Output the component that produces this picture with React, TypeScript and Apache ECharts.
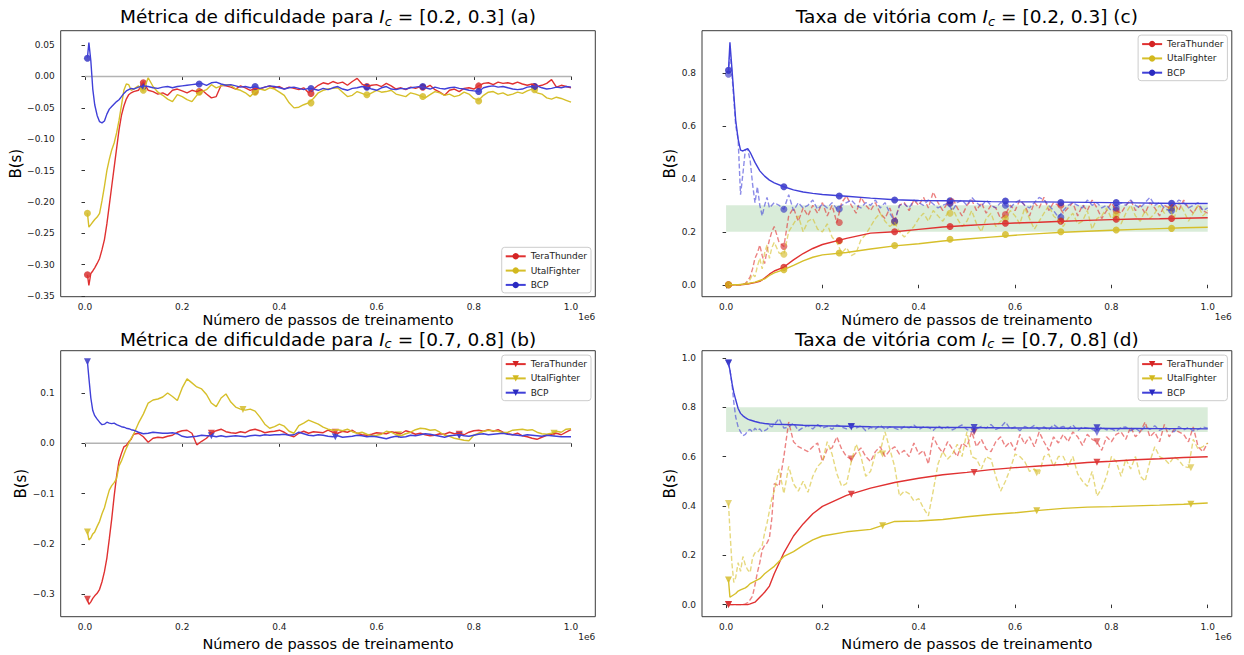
import React, { useEffect, useRef } from 'react';
import * as echarts from 'echarts';

// ---------- ticks ----------
const X_TICKS = [0, 0.2, 0.4, 0.6, 0.8, 1.0];
const Y_TICKS_A = [-0.35, -0.3, -0.25, -0.2, -0.15, -0.1, -0.05, 0, 0.05];
const Y_TICKS_B = [-0.3, -0.2, -0.1, 0, 0.1];
const Y_TICKS_C = [0, 0.2, 0.4, 0.6, 0.8];
const Y_TICKS_D = [0, 0.2, 0.4, 0.6, 0.8, 1.0];

const AGENTS = ['TeraThunder', 'UtalFighter', 'BCP'];

// ---------- x positions (units of 1e6 training steps) ----------
const X_N = [
  0.005, 0.008, 0.012, 0.016, 0.02, 0.025, 0.03, 0.035, 0.04, 0.045,
  0.05, 0.055, 0.06, 0.065, 0.07, 0.075, 0.08, 0.085, 0.09, 0.095,
  0.10, 0.11, 0.12, 0.13, 0.14, 0.15, 0.16, 0.17, 0.18, 0.19,
  0.20, 0.21, 0.22, 0.23, 0.24, 0.25, 0.26, 0.27, 0.28, 0.29,
  0.30, 0.31, 0.32, 0.33, 0.34, 0.35, 0.36, 0.37, 0.38, 0.39,
  0.40, 0.41, 0.42, 0.43, 0.44, 0.45, 0.46, 0.47, 0.48, 0.49,
  0.50, 0.51, 0.52, 0.53, 0.54, 0.55, 0.56, 0.57, 0.58, 0.59,
  0.60, 0.61, 0.62, 0.63, 0.64, 0.65, 0.66, 0.67, 0.68, 0.69,
  0.70, 0.71, 0.72, 0.73, 0.74, 0.75, 0.76, 0.77, 0.78, 0.79,
  0.80, 0.81, 0.82, 0.83, 0.84, 0.85, 0.86, 0.87, 0.88, 0.89,
  0.90, 0.91, 0.92, 0.93, 0.94, 0.95, 0.96, 0.97, 0.98, 0.99, 1.00,
];
const X_S = [
  0.005, 0.008, 0.012, 0.016, 0.02, 0.025, 0.03, 0.035, 0.04, 0.045,
  0.05, 0.06, 0.07, 0.08, 0.09, 0.1, 0.12, 0.14, 0.16, 0.18, 0.2,
  0.25, 0.3, 0.35, 0.4, 0.45, 0.5, 0.55, 0.6, 0.65, 0.7, 0.75, 0.8, 0.85, 0.9, 0.95, 1.0,
];
const MK_AC = [0.005, 0.12, 0.235, 0.35, 0.465, 0.58, 0.695, 0.81, 0.925];
const MK_BD_RB = [0.005, 0.26, 0.515, 0.77];
const MK_BD_Y = [0.005, 0.325, 0.645, 0.965];

// ---------- (a) difficulty metric, Ic = [0.2, 0.3] ----------
const RED_A = [
  -0.316, -0.333, -0.314, -0.31, -0.305, -0.298, -0.29, -0.276, -0.26, -0.235,
  -0.205, -0.175, -0.145, -0.115, -0.085, -0.062, -0.047, -0.036, -0.029, -0.026,
  -0.024, -0.022, -0.008, -0.022, -0.024, -0.028, -0.026, -0.03, -0.022, -0.02,
  -0.023, -0.026, -0.022, -0.024, -0.021, -0.028, -0.034, -0.032, -0.014, -0.015,
  -0.017, -0.02, -0.015, -0.018, -0.022, -0.019, -0.02, -0.017, -0.015, -0.018,
  -0.016, -0.02, -0.017, -0.019, -0.021, -0.018, -0.026, -0.02, -0.014, -0.01,
  -0.012, -0.008, -0.011, -0.009, -0.014, -0.008, -0.003, -0.012, -0.016, -0.014,
  -0.013, -0.016, -0.011, -0.015, -0.02, -0.018, -0.021, -0.017, -0.019, -0.016,
  -0.018, -0.014, -0.021, -0.025, -0.03, -0.022, -0.02, -0.024, -0.019, -0.018,
  -0.02, -0.015, -0.011, -0.01, -0.013, -0.009, -0.011, -0.01, -0.012, -0.009,
  -0.012, -0.014, -0.012, -0.016, -0.014, -0.011, -0.005, -0.017, -0.014, -0.016, -0.018,
];
const YEL_A = [
  -0.218, -0.24, -0.236, -0.232, -0.228, -0.224, -0.218, -0.198, -0.175, -0.15,
  -0.132, -0.117, -0.106, -0.09, -0.07, -0.046, -0.022, -0.012, -0.013, -0.022,
  -0.02, -0.015, -0.023, -0.002, -0.016, -0.025, -0.03, -0.036, -0.04, -0.029,
  -0.032, -0.037, -0.04, -0.03, -0.024, -0.021, -0.013, -0.018, -0.015, -0.013,
  -0.014, -0.02, -0.022, -0.026, -0.032, -0.024, -0.02, -0.022, -0.018, -0.02,
  -0.025, -0.03, -0.042, -0.05, -0.049, -0.045, -0.042, -0.035, -0.026, -0.022,
  -0.02, -0.019, -0.018, -0.025, -0.032, -0.03, -0.024, -0.027, -0.03, -0.026,
  -0.022, -0.025, -0.024, -0.022, -0.028, -0.03, -0.032, -0.026, -0.028, -0.031,
  -0.034, -0.029, -0.024, -0.026, -0.03, -0.028, -0.032, -0.03, -0.025, -0.028,
  -0.035, -0.038, -0.03, -0.025, -0.024, -0.028, -0.026, -0.03, -0.028, -0.025,
  -0.027, -0.023, -0.02, -0.026, -0.028, -0.034, -0.036, -0.033, -0.035, -0.038, -0.041,
];
const BLU_A = [
  0.03, 0.054, 0.025, -0.02, -0.045, -0.062, -0.072, -0.074, -0.071, -0.06,
  -0.052, -0.048, -0.044, -0.04, -0.037, -0.032, -0.027, -0.023, -0.021, -0.019,
  -0.02, -0.017, -0.015, -0.016, -0.018, -0.019, -0.017, -0.016, -0.018, -0.016,
  -0.015, -0.014, -0.013, -0.012, -0.011, -0.014, -0.01, -0.009, -0.012, -0.014,
  -0.013, -0.015, -0.017, -0.016, -0.018, -0.016, -0.019, -0.017, -0.015, -0.016,
  -0.018, -0.02, -0.018, -0.017, -0.019, -0.021, -0.019, -0.02, -0.022, -0.019,
  -0.021, -0.018, -0.016, -0.02, -0.022, -0.019, -0.018, -0.016, -0.017, -0.02,
  -0.022, -0.018, -0.016, -0.02, -0.021, -0.019, -0.02, -0.018, -0.017, -0.016,
  -0.018, -0.02, -0.017, -0.019, -0.02, -0.018, -0.017, -0.019, -0.02, -0.022,
  -0.023, -0.024, -0.018, -0.016, -0.015, -0.017, -0.016, -0.018, -0.02, -0.021,
  -0.02, -0.017, -0.016, -0.015, -0.018, -0.02, -0.019, -0.017, -0.018, -0.016, -0.017,
];
const RED_A_MK = [-0.316, -0.01, -0.024, -0.024, -0.027, -0.016, -0.017, -0.015, -0.016];
const YEL_A_MK = [-0.218, -0.022, -0.025, -0.025, -0.042, -0.029, -0.032, -0.039, -0.021];
const BLU_A_MK = [0.029, -0.016, -0.012, -0.016, -0.019, -0.017, -0.016, -0.024, -0.016];

// ---------- (b) difficulty metric, Ic = [0.7, 0.8] ----------
const RED_B = [
  -0.31, -0.32, -0.315, -0.308, -0.303, -0.298, -0.29, -0.275, -0.255, -0.228,
  -0.19, -0.15, -0.105, -0.065, -0.035, -0.02, -0.007, -0.004, 0.003, 0.008,
  0.018, 0.02, 0.013, 0.002, 0.01, 0.012, 0.011, 0.014, 0.016, 0.022,
  0.025, 0.026, 0.02, -0.003, 0.004, 0.01, 0.02, 0.025, 0.028, 0.023,
  0.021, 0.02, 0.023, 0.021, 0.026, 0.028, 0.025, 0.021, 0.023, 0.024,
  0.026, 0.022, 0.016, 0.013, 0.02, 0.024, 0.02, 0.023, 0.022, 0.021,
  0.026, 0.022, 0.02, 0.024, 0.022, 0.026, 0.02, 0.017, 0.016, 0.018,
  0.021, 0.02, 0.019, 0.023, 0.021, 0.019, 0.025, 0.022, 0.018, 0.02,
  0.017, 0.015, 0.016, 0.019, 0.018, 0.022, 0.019, 0.02, 0.017, 0.022,
  0.025, 0.026, 0.024, 0.027, 0.024, 0.027, 0.022, 0.019, 0.017, 0.02,
  0.015, 0.013, 0.01, 0.008, 0.012, 0.016, 0.018, 0.02, 0.017, 0.022, 0.027,
];
const YEL_B = [
  -0.176, -0.192, -0.188, -0.18, -0.176, -0.165, -0.155, -0.14, -0.128, -0.11,
  -0.093, -0.084, -0.078, -0.07, -0.045, -0.035, -0.022, -0.01, 0.0, 0.01,
  0.018, 0.04, 0.058, 0.08, 0.086, 0.088, 0.092, 0.1, 0.093, 0.085,
  0.11, 0.128, 0.12, 0.112, 0.108, 0.097, 0.08, 0.073, 0.09, 0.098,
  0.082, 0.072, 0.068, 0.066, 0.068, 0.064, 0.052, 0.038, 0.03, 0.033,
  0.038, 0.034, 0.024, 0.02, 0.035, 0.04, 0.046, 0.042, 0.038, 0.032,
  0.028, 0.026, 0.027, 0.025, 0.028, 0.023, 0.02, 0.022, 0.018, 0.015,
  0.016, 0.018, 0.024, 0.022, 0.017, 0.015, 0.019, 0.022, 0.027, 0.03,
  0.029, 0.026, 0.027, 0.022, 0.016, 0.014, 0.01, 0.008, 0.006, 0.005,
  0.016, 0.02, 0.024, 0.026, 0.025, 0.024, 0.021, 0.022, 0.026, 0.027,
  0.028, 0.026, 0.027, 0.022, 0.019, 0.018, 0.02, 0.024, 0.022, 0.028, 0.029,
];
const BLU_B = [
  0.162, 0.13, 0.09, 0.065, 0.055, 0.048, 0.042, 0.037, 0.038, 0.042,
  0.04, 0.039, 0.04, 0.037, 0.035, 0.033, 0.032, 0.03, 0.029, 0.027,
  0.026, 0.022, 0.019, 0.02, 0.022, 0.021, 0.02, 0.02, 0.021, 0.019,
  0.014, 0.012, 0.013, 0.014, 0.016, 0.015, 0.015, 0.013, 0.015, 0.013,
  0.014, 0.015, 0.014, 0.013, 0.015, 0.016, 0.015, 0.017, 0.016, 0.017,
  0.017, 0.018, 0.016, 0.017, 0.022, 0.019, 0.016, 0.015, 0.017, 0.016,
  0.014, 0.013, 0.015, 0.012, 0.013, 0.014, 0.016, 0.015, 0.013, 0.014,
  0.013, 0.011, 0.009, 0.012, 0.014, 0.012, 0.013, 0.016, 0.015, 0.017,
  0.019, 0.018, 0.016, 0.014, 0.012, 0.015, 0.016, 0.017, 0.015, 0.014,
  0.016, 0.018, 0.019, 0.017, 0.018, 0.019, 0.02, 0.018, 0.017, 0.016,
  0.015, 0.017, 0.016, 0.015, 0.014, 0.016, 0.015, 0.014, 0.013, 0.013, 0.013,
];
const RED_B_MK = [-0.31, 0.02, 0.022, 0.018];
const YEL_B_MK = [-0.176, 0.067, 0.017, 0.02];
const BLU_B_MK = [0.162, 0.015, 0.013, 0.015];

// ---------- (c) win rate, Ic = [0.2, 0.3] ----------
const RED_C = [0, 0, 0, 0, 0, 0, 0, 0.001, 0.002, 0.003, 0.005, 0.008, 0.013, 0.025, 0.04, 0.052, 0.067, 0.094, 0.118, 0.137, 0.152,
  0.175, 0.195, 0.2, 0.209, 0.218, 0.224, 0.229, 0.233, 0.236, 0.24, 0.243, 0.246, 0.248, 0.249, 0.251, 0.253];
const YEL_C = [0, 0, 0, 0, 0, 0, 0.001, 0.002, 0.003, 0.004, 0.006, 0.01, 0.016, 0.022, 0.035, 0.045, 0.057, 0.073, 0.09, 0.104, 0.113,
  0.122, 0.135, 0.147, 0.155, 0.165, 0.173, 0.18, 0.187, 0.193, 0.198, 0.202, 0.206, 0.209, 0.212, 0.215, 0.217];
const BLU_C = [0.81, 0.915, 0.82, 0.72, 0.62, 0.55, 0.508, 0.505, 0.51, 0.514, 0.5, 0.462, 0.43, 0.41, 0.395, 0.385, 0.37, 0.358, 0.35, 0.345, 0.341,
  0.334, 0.327, 0.321, 0.318, 0.317, 0.316, 0.314, 0.313, 0.313, 0.312, 0.311, 0.31, 0.309, 0.308, 0.307, 0.307];
const RED_C_D = [
  0, 0, 0, 0, 0, 0, 0, 0.002, 0.005, 0.015,
  0.03, 0.06, 0.1, 0.12, 0.15, 0.11, 0.08, 0.13, 0.17, 0.2,
  0.22, 0.16, 0.145, 0.26, 0.29, 0.24, 0.29, 0.26, 0.3, 0.27,
  0.31, 0.26, 0.3, 0.235, 0.31, 0.335, 0.3, 0.27, 0.33, 0.3,
  0.28, 0.31, 0.27, 0.25, 0.29, 0.24, 0.3, 0.31, 0.28, 0.32,
  0.3, 0.33, 0.29, 0.35, 0.31, 0.28, 0.31, 0.33, 0.29, 0.26,
  0.3, 0.32, 0.28, 0.31, 0.27, 0.3, 0.29, 0.25, 0.265, 0.3,
  0.28, 0.32, 0.3, 0.26, 0.31, 0.29, 0.33, 0.28, 0.31, 0.3,
  0.27, 0.29, 0.31, 0.26, 0.3, 0.28, 0.32, 0.29, 0.25, 0.28,
  0.31, 0.28, 0.27, 0.3, 0.32, 0.28, 0.3, 0.27, 0.31, 0.29,
  0.26, 0.3, 0.29, 0.31, 0.28, 0.32, 0.29, 0.27, 0.3, 0.28, 0.27,
];
const YEL_C_D = [
  0, 0, 0, 0, 0, 0, 0, 0, 0.005, 0.01,
  0.02, 0.04, 0.03, 0.07, 0.1, 0.06, 0.12, 0.15, 0.1, 0.14,
  0.16, 0.12, 0.115, 0.2, 0.23, 0.26, 0.2, 0.24, 0.25, 0.21,
  0.2, 0.23, 0.18, 0.16, 0.12, 0.14, 0.11, 0.12, 0.17, 0.19,
  0.22, 0.25, 0.27, 0.24, 0.22, 0.235, 0.2, 0.18, 0.2, 0.22,
  0.25, 0.27, 0.24, 0.28, 0.26, 0.24, 0.27, 0.29, 0.25, 0.22,
  0.24, 0.28, 0.23, 0.2, 0.25, 0.27, 0.22, 0.24, 0.25, 0.28,
  0.26, 0.23, 0.29, 0.25, 0.21, 0.24, 0.27, 0.3, 0.26, 0.243,
  0.22, 0.25, 0.27, 0.23, 0.24, 0.28, 0.21, 0.25, 0.26, 0.29,
  0.25, 0.265, 0.23, 0.27, 0.3, 0.26, 0.24, 0.28, 0.25, 0.27,
  0.3, 0.27, 0.29, 0.25, 0.31, 0.28, 0.24, 0.27, 0.3, 0.26, 0.28,
];
const BLU_C_D = [
  0.795, 0.88, 0.8, 0.7, 0.6, 0.55, 0.34, 0.42, 0.51, 0.51,
  0.47, 0.38, 0.31, 0.37, 0.3, 0.26, 0.3, 0.33, 0.29, 0.3,
  0.31, 0.3, 0.285, 0.34, 0.28, 0.31, 0.29, 0.3, 0.32, 0.285,
  0.305, 0.29, 0.31, 0.286, 0.3, 0.31, 0.32, 0.3, 0.29, 0.31,
  0.3, 0.32, 0.29, 0.31, 0.27, 0.24, 0.3, 0.305, 0.29, 0.32,
  0.31, 0.3, 0.32, 0.305, 0.29, 0.3, 0.307, 0.28, 0.31, 0.32,
  0.3, 0.33, 0.31, 0.295, 0.32, 0.3, 0.29, 0.31, 0.3, 0.29,
  0.31, 0.32, 0.3, 0.29, 0.31, 0.33, 0.32, 0.3, 0.28, 0.255,
  0.28, 0.3, 0.31, 0.3, 0.29, 0.32, 0.3, 0.31, 0.29, 0.3,
  0.28, 0.29, 0.31, 0.3, 0.32, 0.3, 0.29, 0.31, 0.33, 0.3,
  0.31, 0.29, 0.28, 0.3, 0.32, 0.31, 0.29, 0.3, 0.31, 0.28, 0.29,
];
const RED_C_MK = [0, 0.066, 0.167, 0.2, 0.22, 0.232, 0.24, 0.247, 0.25];
const YEL_C_MK = [0, 0.057, 0.12, 0.148, 0.172, 0.19, 0.2, 0.207, 0.213];
const BLU_C_MK = [0.81, 0.37, 0.335, 0.32, 0.317, 0.316, 0.31, 0.31, 0.308];
const RED_C_DMK = [0, 0.145, 0.235, 0.24, 0.31, 0.265, 0.3, 0.28, 0.29];
const YEL_C_DMK = [0, 0.115, 0.165, 0.235, 0.27, 0.25, 0.243, 0.265, 0.29];
const BLU_C_DMK = [0.795, 0.285, 0.286, 0.24, 0.307, 0.3, 0.255, 0.29, 0.28];
const BAND_C = [0.2, 0.3];

// ---------- (d) win rate, Ic = [0.7, 0.8] ----------
const RED_D = [0, 0, 0, 0, 0, 0, 0, 0, 0, 0, 0.003, 0.01, 0.03, 0.05, 0.075, 0.125, 0.21, 0.278, 0.327, 0.368, 0.398,
  0.443, 0.472, 0.495, 0.512, 0.526, 0.536, 0.547, 0.555, 0.562, 0.568, 0.576, 0.581, 0.587, 0.591, 0.596, 0.599];
const YEL_D = [0.1, 0.03, 0.035, 0.04, 0.045, 0.055, 0.06, 0.064, 0.068, 0.075, 0.085, 0.095, 0.105, 0.125, 0.14, 0.155, 0.195, 0.215, 0.24, 0.262, 0.278,
  0.295, 0.305, 0.337, 0.339, 0.345, 0.356, 0.365, 0.372, 0.382, 0.39, 0.395, 0.397, 0.4, 0.403, 0.407, 0.412];
const BLU_D = [0.978, 0.95, 0.9, 0.86, 0.83, 0.795, 0.775, 0.765, 0.758, 0.752, 0.748, 0.742, 0.737, 0.734, 0.732, 0.731, 0.73, 0.729, 0.727, 0.726, 0.725,
  0.723, 0.721, 0.72, 0.719, 0.718, 0.718, 0.717, 0.716, 0.716, 0.715, 0.715, 0.714, 0.714, 0.713, 0.713, 0.712];
const RED_D_D = [
  0, 0, 0, 0, 0, 0, 0, 0, 0.003, 0.008,
  0.02, 0.035, 0.08, 0.13, 0.17, 0.222, 0.24, 0.25, 0.27, 0.35,
  0.49, 0.48, 0.6, 0.74, 0.66, 0.64, 0.63, 0.62, 0.64, 0.655,
  0.58, 0.63, 0.635, 0.68, 0.63, 0.6, 0.59, 0.615, 0.635, 0.6,
  0.58, 0.62, 0.64, 0.6, 0.625, 0.64, 0.61, 0.625, 0.6, 0.655,
  0.61, 0.625, 0.57, 0.68, 0.64, 0.615, 0.66, 0.63, 0.6, 0.655,
  0.64, 0.7, 0.64, 0.67, 0.63, 0.62, 0.66, 0.68, 0.64, 0.66,
  0.625, 0.69, 0.65, 0.68, 0.64, 0.7, 0.66, 0.625, 0.68, 0.655,
  0.69, 0.66, 0.7, 0.68, 0.645, 0.69, 0.67, 0.66, 0.625, 0.68,
  0.66, 0.69, 0.7, 0.67, 0.72, 0.68, 0.7, 0.74, 0.68, 0.7,
  0.66, 0.73, 0.68, 0.71, 0.7, 0.69, 0.66, 0.72, 0.64, 0.62, 0.655,
];
const YEL_D_D = [
  0.41, 0.3, 0.17, 0.09, 0.11, 0.17, 0.135, 0.195, 0.16, 0.14,
  0.13, 0.19, 0.21, 0.21, 0.225, 0.24, 0.29, 0.33, 0.38, 0.43,
  0.46, 0.55, 0.45, 0.56, 0.49, 0.46, 0.5, 0.455, 0.52, 0.56,
  0.58, 0.66, 0.61, 0.53, 0.48, 0.49, 0.58, 0.65, 0.6, 0.52,
  0.54, 0.61, 0.62, 0.7, 0.63, 0.56, 0.44, 0.46, 0.45, 0.42,
  0.43, 0.39, 0.36, 0.46, 0.57, 0.62, 0.59, 0.61, 0.65, 0.6,
  0.7, 0.6, 0.59, 0.55, 0.6, 0.59, 0.52, 0.46, 0.5, 0.55,
  0.61, 0.6, 0.58, 0.54, 0.55, 0.53, 0.6, 0.61, 0.56, 0.6,
  0.6, 0.56, 0.6, 0.53, 0.5, 0.48, 0.54, 0.44, 0.47, 0.52,
  0.6, 0.58, 0.52, 0.59, 0.55, 0.6, 0.52, 0.5, 0.58, 0.64,
  0.6, 0.59, 0.57, 0.6, 0.585, 0.56, 0.555, 0.67, 0.63, 0.64, 0.655,
];
const BLU_D_D = [
  0.98, 0.95, 0.9, 0.82, 0.76, 0.72, 0.7, 0.685, 0.69, 0.705,
  0.71, 0.7, 0.715, 0.705, 0.712, 0.7, 0.705, 0.71, 0.725, 0.72,
  0.73, 0.754, 0.715, 0.72, 0.736, 0.705, 0.718, 0.725, 0.712, 0.73,
  0.715, 0.722, 0.71, 0.728, 0.72, 0.712, 0.722, 0.715, 0.725, 0.705,
  0.718, 0.712, 0.727, 0.71, 0.72, 0.715, 0.708, 0.722, 0.716, 0.728,
  0.71, 0.72, 0.718, 0.706, 0.725, 0.712, 0.72, 0.708, 0.718, 0.728,
  0.71, 0.7, 0.712, 0.722, 0.715, 0.73, 0.71, 0.718, 0.74, 0.712,
  0.72, 0.705, 0.722, 0.714, 0.726, 0.71, 0.72, 0.708, 0.73, 0.715,
  0.722, 0.712, 0.728, 0.705, 0.72, 0.715, 0.71, 0.7, 0.72, 0.708,
  0.712, 0.702, 0.718, 0.72, 0.705, 0.715, 0.7, 0.722, 0.71, 0.725,
  0.706, 0.716, 0.712, 0.7, 0.722, 0.708, 0.718, 0.704, 0.71, 0.72, 0.715,
];
const RED_D_MK = [0, 0.447, 0.535, 0.577];
const YEL_D_MK = [0.1, 0.32, 0.38, 0.407];
const BLU_D_MK = [0.978, 0.722, 0.718, 0.717];
const RED_D_DMK = [0, 0.59, 0.7, 0.66];
const YEL_D_DMK = [0.41, 0.61, 0.534, 0.555];
const BLU_D_DMK = [0.98, 0.72, 0.705, 0.698];
const BAND_D = [0.7, 0.8];

const ZERO_LINE = [[0, 0], [1, 0]];
const BAND_X = [0, 1];

// ---------- styling ----------
const FONT = 'DejaVu Sans';
const COLORS: Record<string, { line: string; mark: string }> = {
  TeraThunder: { line: '#e03131', mark: '#d42424' },
  UtalFighter: { line: '#d6bf2a', mark: '#d2b81e' },
  BCP: { line: '#4040d8', mark: '#2a2ac0' },
};
const TRI = 'path://M0,0L10,0L5,8.66Z';

function pairs(xs: number[], ys: number[]) {
  const n = Math.min(xs.length, ys.length);
  const out: number[][] = [];
  for (let i = 0; i < n; i++) out.push([xs[i], ys[i]]);
  return out;
}

const minusFmt = (digits: number) => (v: number) => {
  const s = Math.abs(v).toFixed(digits);
  return v < -1e-9 ? '\u2212' + s : s;
};

type Line = { agent: string; xs: number[]; ys: number[]; mx: number[]; my: number[] };

function buildSeries(panel: string, gi: number, symbol: string, solid: Line[], dashed: Line[] | null, zero: boolean, band: number[] | null) {
  const s: any[] = [];
  const symSize = 7;
  if (zero) {
    s.push({
      type: 'line', name: 'zero#' + panel, xAxisIndex: gi, yAxisIndex: gi, data: ZERO_LINE,
      showSymbol: false, symbol: 'none', lineStyle: { color: '#b3b3b3', width: 1.4 }, silent: true,
    });
  }
  if (band) {
    s.push({
      type: 'line', name: 'band#' + panel, xAxisIndex: gi, yAxisIndex: gi, data: [], symbol: 'none', silent: true,
      markArea: {
        silent: true,
        itemStyle: { color: 'rgba(0,128,0,0.15)' },
        data: [[{ coord: [BAND_X[0], band[0]] }, { coord: [BAND_X[1], band[1]] }]],
      },
    });
  }
  if (dashed) {
    dashed.forEach((l) => {
      const c = COLORS[l.agent];
      s.push({
        type: 'line', name: l.agent + '#' + panel + '-dash', xAxisIndex: gi, yAxisIndex: gi,
        data: pairs(l.xs, l.ys), showSymbol: false, symbol: 'none',
        lineStyle: { color: c.line, width: 1.4, type: [5, 2.5], opacity: 0.6 }, silent: true,
      });
      s.push({
        type: 'scatter', name: l.agent + '#' + panel + '-dmk', xAxisIndex: gi, yAxisIndex: gi,
        data: pairs(l.mx, l.my), symbol, symbolSize: symSize,
        itemStyle: { color: c.mark, opacity: 0.6 }, silent: true,
      });
    });
  }
  solid.forEach((l) => {
    const c = COLORS[l.agent];
    s.push({
      type: 'line', name: l.agent + '#' + panel, xAxisIndex: gi, yAxisIndex: gi,
      data: pairs(l.xs, l.ys), showSymbol: false, symbol, symbolSize: symSize,
      lineStyle: { color: c.line, width: 1.4 }, itemStyle: { color: c.mark }, silent: true,
    });
    s.push({
      type: 'scatter', name: l.agent + '#' + panel + '-mk', xAxisIndex: gi, yAxisIndex: gi,
      data: pairs(l.mx, l.my), symbol, symbolSize: symSize,
      itemStyle: { color: c.mark }, silent: true,
    });
  });
  return s;
}

const GRIDS = [
  { left: 60.7, top: 30.7, width: 534.6, height: 266 },
  { left: 60.7, top: 350.7, width: 534.6, height: 266 },
  { left: 702, top: 30.7, width: 529.8, height: 266 },
  { left: 702, top: 350.7, width: 529.8, height: 266 },
];
const Y_RANGES = [[-0.351, 0.073], [-0.3445, 0.184], [-0.045, 0.959], [-0.049, 1.029]];
const Y_TICK_SETS = [Y_TICKS_A, Y_TICKS_B, Y_TICKS_C, Y_TICKS_D];
const Y_DIGITS = [2, 1, 1, 1];
const Y_NAMEGAP = [37, 31, 24, 24];
const X_NAMEGAP = [16, 20, 16, 20];
const PANELS = ['a', 'b', 'c', 'd'];
const TITLES = [
  ['Métrica de dificuldade para ', ' = [0.2, 0.3] (a)'],
  ['Métrica de dificuldade para ', ' = [0.7, 0.8] (b)'],
  ['Taxa de vitória com ', ' = [0.2, 0.3] (c)'],
  ['Taxa de vitória com ', ' = [0.7, 0.8] (d)'],
];
const TITLE_DY = [-25, -22.5, -25, -22.5];
const LEGEND_POS = [
  { right: 653, top: 247.3 },
  { right: 653, top: 355.1 },
  { right: 16.6, top: 35.1 },
  { right: 16.6, top: 355.1 },
];

function buildOption() {
  const series: any[] = [];
  series.push(...buildSeries('a', 0, 'circle', [
    { agent: 'TeraThunder', xs: X_N, ys: RED_A, mx: MK_AC, my: RED_A_MK },
    { agent: 'UtalFighter', xs: X_N, ys: YEL_A, mx: MK_AC, my: YEL_A_MK },
    { agent: 'BCP', xs: X_N, ys: BLU_A, mx: MK_AC, my: BLU_A_MK },
  ], null, true, null));
  series.push(...buildSeries('b', 1, TRI, [
    { agent: 'TeraThunder', xs: X_N, ys: RED_B, mx: MK_BD_RB, my: RED_B_MK },
    { agent: 'UtalFighter', xs: X_N, ys: YEL_B, mx: MK_BD_Y, my: YEL_B_MK },
    { agent: 'BCP', xs: X_N, ys: BLU_B, mx: MK_BD_RB, my: BLU_B_MK },
  ], null, true, null));
  series.push(...buildSeries('c', 2, 'circle', [
    { agent: 'TeraThunder', xs: X_S, ys: RED_C, mx: MK_AC, my: RED_C_MK },
    { agent: 'UtalFighter', xs: X_S, ys: YEL_C, mx: MK_AC, my: YEL_C_MK },
    { agent: 'BCP', xs: X_S, ys: BLU_C, mx: MK_AC, my: BLU_C_MK },
  ], [
    { agent: 'TeraThunder', xs: X_N, ys: RED_C_D, mx: MK_AC, my: RED_C_DMK },
    { agent: 'UtalFighter', xs: X_N, ys: YEL_C_D, mx: MK_AC, my: YEL_C_DMK },
    { agent: 'BCP', xs: X_N, ys: BLU_C_D, mx: MK_AC, my: BLU_C_DMK },
  ], false, BAND_C));
  series.push(...buildSeries('d', 3, TRI, [
    { agent: 'TeraThunder', xs: X_S, ys: RED_D, mx: MK_BD_RB, my: RED_D_MK },
    { agent: 'UtalFighter', xs: X_S, ys: YEL_D, mx: MK_BD_Y, my: YEL_D_MK },
    { agent: 'BCP', xs: X_S, ys: BLU_D, mx: MK_BD_RB, my: BLU_D_MK },
  ], [
    { agent: 'TeraThunder', xs: X_N, ys: RED_D_D, mx: MK_BD_RB, my: RED_D_DMK },
    { agent: 'UtalFighter', xs: X_N, ys: YEL_D_D, mx: MK_BD_Y, my: YEL_D_DMK },
    { agent: 'BCP', xs: X_N, ys: BLU_D_D, mx: MK_BD_RB, my: BLU_D_DMK },
  ], false, BAND_D));

  const titleRich = {
    n: { fontSize: 18.5, fontFamily: FONT, fontWeight: 'normal', color: '#000', lineHeight: 22 },
    i: { fontSize: 18.5, fontFamily: FONT, fontWeight: 'normal', fontStyle: 'italic', color: '#000', lineHeight: 22 },
    s: { fontSize: 13, fontFamily: FONT, fontWeight: 'normal', fontStyle: 'italic', color: '#000', lineHeight: 12, verticalAlign: 'bottom' },
  };

  return {
    animation: false,
    backgroundColor: '#ffffff',
    title: GRIDS.map((g, i) => ({
      text: `{n|${TITLES[i][0]}}{i|I}{s|c}{n|${TITLES[i][1]}}`,
      left: g.left + g.width / 2,
      top: g.top + TITLE_DY[i],
      textAlign: 'center',
      padding: 0,
      textStyle: { fontWeight: 'normal', fontSize: 18.5, fontFamily: FONT, color: '#000', rich: titleRich },
    })),
    legend: GRIDS.map((g, i) => ({
      orient: 'vertical',
      right: LEGEND_POS[i].right,
      top: LEGEND_POS[i].top,
      itemWidth: 20,
      itemHeight: 8,
      itemGap: 2.3,
      padding: [3, 4, 2, 3],
      borderColor: '#cccccc',
      borderWidth: 1,
      borderRadius: 3,
      backgroundColor: 'rgba(255,255,255,0.8)',
      selectedMode: false,
      textStyle: { fontSize: 9, fontFamily: FONT, color: '#222', lineHeight: 12 },
      data: AGENTS.map((a) => a + '#' + PANELS[i]),
      formatter: (n: string) => n.split('#')[0],
    })),
    grid: GRIDS.map((g) => ({ ...g, show: true, borderColor: '#3a3a3a', borderWidth: 1, backgroundColor: 'transparent' })),
    xAxis: GRIDS.map((g, i) => ({
      type: 'value', gridIndex: i, min: -0.05, max: 1.05,
      name: 'Número de passos de treinamento', nameLocation: 'middle', nameGap: X_NAMEGAP[i],
      nameTextStyle: { fontSize: 14.5, fontFamily: FONT, color: '#000', lineHeight: 14 },
      axisLine: { show: false },
      splitLine: { show: false },
      axisTick: { show: true, length: 3.5, customValues: X_TICKS, lineStyle: { color: '#333' } },
      axisLabel: { customValues: X_TICKS, formatter: (v: number) => v.toFixed(1), fontSize: 9, fontFamily: FONT, color: '#222', margin: 6 },
    })),
    yAxis: GRIDS.map((g, i) => ({
      type: 'value', gridIndex: i, min: Y_RANGES[i][0], max: Y_RANGES[i][1],
      name: 'B(s)', nameLocation: 'middle', nameGap: Y_NAMEGAP[i],
      nameTextStyle: { fontSize: 15, fontFamily: FONT, color: '#000' },
      axisLine: { show: false },
      splitLine: { show: false },
      axisTick: { show: true, length: 3.5, customValues: Y_TICK_SETS[i], lineStyle: { color: '#333' } },
      axisLabel: { customValues: Y_TICK_SETS[i], formatter: minusFmt(Y_DIGITS[i]), fontSize: 9, fontFamily: FONT, color: '#222', margin: 6 },
    })),
    graphic: GRIDS.map((g) => ({
      type: 'text',
      x: g.left + g.width,
      y: g.top + g.height + 16,
      style: { text: '1e6', textAlign: 'right', textVerticalAlign: 'top', fontSize: 9, fontFamily: FONT, fill: '#222' },
      silent: true,
    })),
    series,
  };
}

export default function App() {
  const ref = useRef<HTMLDivElement>(null);
  useEffect(() => {
    document.body.style.margin = '0';
    if (!ref.current) return;
    const chart = echarts.init(ref.current, undefined, { renderer: 'svg' });
    chart.setOption(buildOption() as any);
    return () => chart.dispose();
  }, []);
  return <div ref={ref} style={{ width: 1244, height: 655 }} />;
}
